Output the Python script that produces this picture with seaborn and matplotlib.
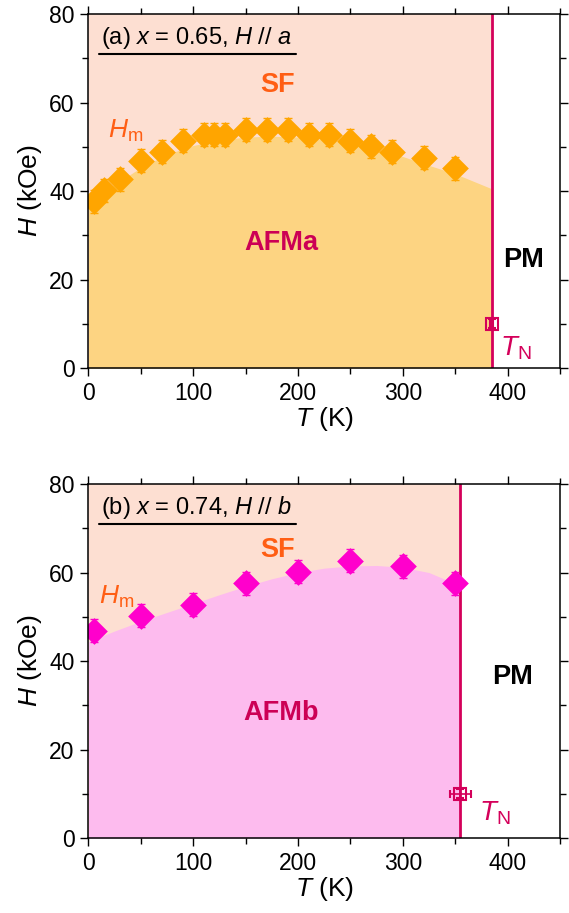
import numpy as np
import pandas as pd
import matplotlib
matplotlib.use("Agg")
import matplotlib.pyplot as plt
import seaborn as sns

# ---- data panel (a) ----
T_a = [5, 15, 30, 50, 70, 90, 110, 120, 130, 150, 170, 190, 210, 230, 250, 270, 290, 320, 350]
H_a = [37.7, 40.2, 42.7, 46.8, 48.9, 51.4, 52.7, 52.7, 52.7, 53.9, 53.9, 53.9, 52.7, 52.7, 51.4, 50.1, 48.9, 47.5, 45.2]
Herr_a = [2.6] * len(T_a)
bT_a = [0, 25, 50, 75, 100, 125, 150, 175, 200, 225, 250, 275, 300, 325, 350, 385]
bH_a = [36.5, 41.5, 45.3, 48.3, 50.3, 51.5, 52.2, 52.4, 52.2, 51.7, 50.8, 49.5, 47.8, 45.8, 43.9, 40.5]
TN_a, TNerr_a = 385, 1.5

# ---- data panel (b) ----
T_b = [5, 50, 100, 150, 200, 250, 300, 350]
H_b = [46.8, 50.2, 52.7, 57.6, 60.2, 62.7, 61.4, 57.6]
Herr_b = [2.6] * len(T_b)
bT_b = [0, 25, 50, 75, 100, 125, 150, 175, 200, 225, 250, 275, 300, 325, 355]
bH_b = [44.4, 46.8, 49.0, 51.0, 53.0, 55.0, 56.9, 58.6, 60.0, 61.0, 61.5, 61.6, 61.2, 60.0, 57.0]
TN_b, TNerr_b = 355, 10

sns.set_style("ticks")
plt.rcParams['font.family'] = ['Liberation Sans', 'DejaVu Sans']
plt.rcParams['mathtext.fontset'] = 'custom'
plt.rcParams['mathtext.rm'] = 'Liberation Sans'
plt.rcParams['mathtext.it'] = 'Liberation Sans:italic'
plt.rcParams['text.color'] = 'black'
plt.rcParams['axes.labelcolor'] = 'black'
plt.rcParams['xtick.color'] = 'black'
plt.rcParams['ytick.color'] = 'black'
plt.rcParams['axes.edgecolor'] = 'black'

fig = plt.figure(figsize=(5.69, 9.13), dpi=100)
ax1 = fig.add_axes([0.1555, 0.5969, 0.8287, 0.3877])
ax2 = fig.add_axes([0.1555, 0.0821, 0.8287, 0.3877])

SF_COL = '#FDDFD2'
CRIM = '#D4005A'
ORG_TXT = '#FF5E14'

def panel(ax, T, H, Herr, bT, bH, TN, TNerr, fillc, mcol, title, afm, sf_xy, afm_xy, hm_xy, tn_xy, pm_xy):
    ax.fill_between([0, TN], [80, 80], 0, color=SF_COL, lw=0, zorder=0)
    ax.fill_between(bT, bH, 0, color=fillc, lw=0, zorder=0.5)
    ax.plot([TN, TN], [0, 80], color=CRIM, lw=2, zorder=3)
    ax.errorbar(T, H, yerr=Herr, fmt='none', ecolor=mcol, elinewidth=1, capsize=3, capthick=1, zorder=3)
    df = pd.DataFrame({'T': T, 'H': H})
    sns.scatterplot(data=df, x='T', y='H', ax=ax, marker='D', s=185, color=mcol, edgecolor=mcol, linewidth=0, zorder=4, legend=False)
    ax.errorbar([TN], [10], xerr=[TNerr], yerr=[1.0], fmt='s', ms=8, mfc='none', mec=CRIM, mew=1.5,
                ecolor=CRIM, elinewidth=1.2, capsize=3, zorder=5)
    ax.set_xlim(0, 450)
    ax.set_ylim(0, 80)
    ax.set_xticks([0, 100, 200, 300, 400])
    ax.set_xticks([50, 150, 250, 350, 450], minor=True)
    ax.set_yticks([0, 20, 40, 60, 80])
    ax.set_yticks([10, 30, 50, 70], minor=True)
    ax.tick_params(which='both', direction='out', top=True, right=True, labelsize=16.5, color='black', width=1)
    ax.tick_params(which='major', length=6, pad=4)
    ax.tick_params(which='minor', length=4)
    ax.set_xlabel(r'$\it{T}$ (K)', fontsize=19, labelpad=0)
    ax.set_ylabel(r'$\it{H}$ (kOe)', fontsize=19, labelpad=4)
    for s in ax.spines.values():
        s.set_linewidth(1.1)
        s.set_zorder(6)
    ax.text(12, 74.6, title, fontsize=17, va='center', ha='left', zorder=6)
    ax.plot([10, 198], [71.0, 71.0], color='black', lw=1.5, zorder=6)
    ax.text(*sf_xy, 'SF', fontsize=19.5, fontweight='bold', color=ORG_TXT, ha='center', va='center', zorder=6)
    ax.text(*afm_xy, afm, fontsize=19.5, fontweight='bold', color='#CC0055', ha='center', va='center', zorder=6)
    ax.text(*pm_xy, 'PM', fontsize=19.5, fontweight='bold', color='black', ha='center', va='center', zorder=6)
    ax.text(*hm_xy, r'$\it{H}$$_{\rm m}$', fontsize=19, color=ORG_TXT, ha='center', va='center', zorder=6)
    ax.text(*tn_xy, r'$\it{T}$$_{\rm N}$', fontsize=20, color=CRIM, ha='left', va='center', zorder=6)

panel(ax1, T_a, H_a, Herr_a, bT_a, bH_a, TN_a, TNerr_a, '#FDD482', '#FFA500',
      r'(a) $\it{x}$ = 0.65, $\it{H}$ // $\it{a}$', 'AFMa',
      (180, 64), (184, 28.2), (36, 53.5), (393, 4.5), (415, 24.5))
panel(ax2, T_b, H_b, Herr_b, bT_b, bH_b, TN_b, TNerr_b, '#FDBBEE', '#FF00CC',
      r'(b) $\it{x}$ = 0.74, $\it{H}$ // $\it{b}$', 'AFMb',
      (180, 65), (184, 28.2), (27, 54.5), (373, 5.5), (405, 36.5))

fig.savefig('out.png', dpi=100)
